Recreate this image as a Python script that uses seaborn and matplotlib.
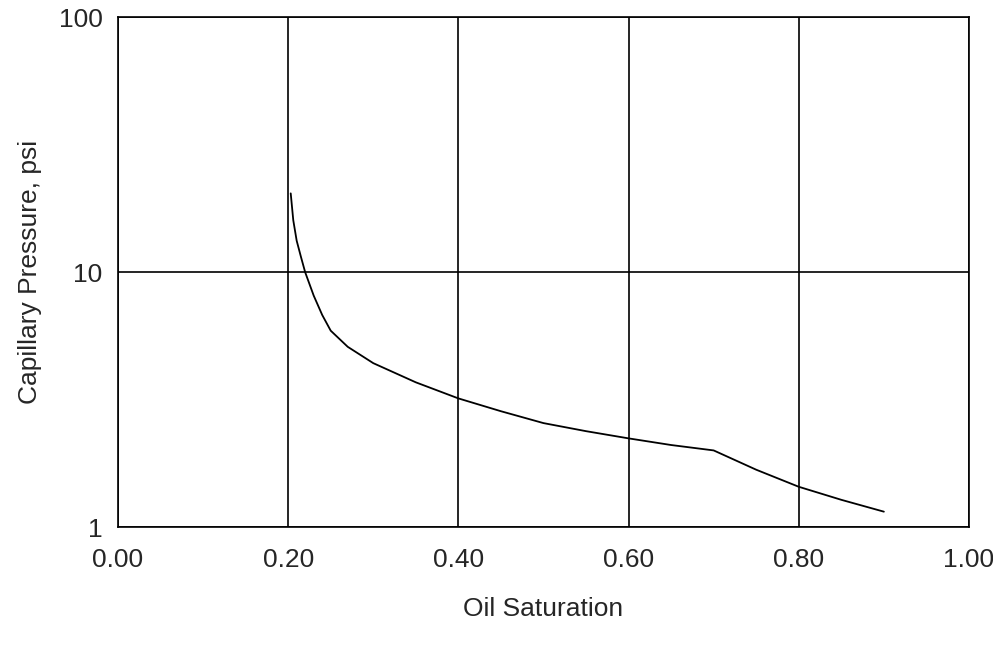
import matplotlib
matplotlib.use("Agg")
import matplotlib.pyplot as plt
import seaborn as sns
import pandas as pd

oil_sat = [0.203, 0.206, 0.21, 0.215, 0.22, 0.23, 0.24, 0.25, 0.27, 0.30, 0.35, 0.40, 0.45, 0.50, 0.55, 0.60, 0.65, 0.70, 0.75, 0.80, 0.85, 0.90]
pc_psi = [20.4, 16.0, 13.3, 11.5, 10.0, 8.1, 6.8, 5.9, 5.1, 4.4, 3.7, 3.2, 2.85, 2.56, 2.38, 2.23, 2.1, 2.0, 1.68, 1.44, 1.28, 1.15]
x_ticks = [0.0, 0.2, 0.4, 0.6, 0.8, 1.0]
x_labels = ["0.00", "0.20", "0.40", "0.60", "0.80", "1.00"]
y_ticks = [1, 10, 100]
y_labels = ["1", "10", "100"]

sns.set_style("white")
plt.rcParams['font.family'] = ['Liberation Sans', 'DejaVu Sans']
fig = plt.figure(figsize=(9.93, 6.46), dpi=100)
ax = fig.add_axes([0.1188, 0.184, 0.857, 0.789])
df = pd.DataFrame({"s": oil_sat, "p": pc_psi})
sns.lineplot(data=df, x="s", y="p", ax=ax, color="black", linewidth=1.3)
ax.set_yscale("log")
ax.set_xlim(0, 1)
ax.set_ylim(1, 100)
ax.set_xticks(x_ticks)
ax.set_xticklabels(x_labels)
ax.set_yticks(y_ticks)
ax.set_yticklabels(y_labels)
ax.minorticks_off()
ax.grid(True, color="black", linewidth=1.2)
for sp in ax.spines.values():
    sp.set_color("black"); sp.set_linewidth(1.2)
ax.tick_params(axis="both", labelsize=19, length=5, width=1.2, direction="out", color="black", pad=6)
ax.tick_params(axis="x", pad=10)
ax.set_xlabel("Oil Saturation", fontsize=19, labelpad=18)
ax.set_ylabel("Capillary Pressure, psi", fontsize=19, labelpad=12)
fig.savefig("out.png", dpi=100)
